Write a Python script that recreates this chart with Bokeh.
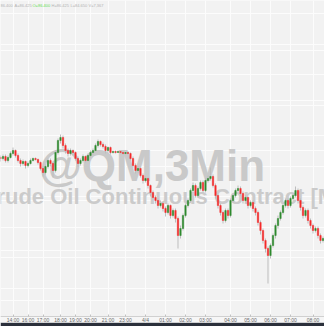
from bokeh.plotting import figure
from bokeh.models import Range1d, FixedTicker, Grid, Label, ColumnDataSource, BoxAnnotation
from bokeh.embed import file_html
from bokeh.resources import INLINE

# ---- data (3-min bars) ----
bar_index = list(range(130))
open_ = [86.43, 86.42, 86.44, 86.40, 86.43, 86.47, 86.50, 86.45, 86.40, 86.37,
         86.39, 86.35, 86.37, 86.40, 86.42, 86.41, 86.38, 86.32, 86.28, 86.34,
         86.40, 86.37, 86.30, 86.48, 86.60, 86.63, 86.55, 86.50, 86.47, 86.50,
         86.48, 86.42, 86.37, 86.40, 86.44, 86.40, 86.45, 86.48, 86.50, 86.55,
         86.59, 86.56, 86.54, 86.50, 86.53, 86.48, 86.49, 86.48, 86.49, 86.48,
         86.47, 86.48, 86.47, 86.42, 86.35, 86.30, 86.32, 86.25, 86.20, 86.22,
         86.15, 86.08, 86.03, 86.00, 85.95, 85.97, 85.92, 85.88, 85.95, 85.85,
         85.90, 85.82, 85.65, 85.72, 85.85, 85.95, 86.00, 86.10, 86.15, 86.05,
         86.12, 86.18, 86.10, 86.20, 86.22, 86.24, 86.15, 86.05, 85.95, 85.88,
         85.80, 85.90, 85.85, 86.00, 86.05, 86.10, 86.12, 86.07, 86.00, 86.03,
         85.95, 85.98, 85.92, 85.88, 85.78, 85.70, 85.60, 85.52, 85.45, 85.55,
         85.65, 85.75, 85.82, 85.88, 85.95, 86.00, 85.95, 86.02, 86.05, 86.10,
         86.00, 85.93, 85.85, 85.90, 85.80, 85.75, 85.70, 85.72, 85.65, 85.60]
high = [86.45, 86.46, 86.46, 86.45, 86.49, 86.53, 86.51, 86.47, 86.42, 86.41,
        86.40, 86.39, 86.42, 86.43, 86.43, 86.42, 86.39, 86.34, 86.36, 86.42,
        86.42, 86.39, 86.50, 86.62, 86.66, 86.65, 86.57, 86.52, 86.52, 86.51,
        86.49, 86.44, 86.42, 86.46, 86.45, 86.47, 86.50, 86.52, 86.57, 86.61,
        86.60, 86.58, 86.56, 86.54, 86.54, 86.50, 86.50, 86.50, 86.49, 86.49,
        86.48, 86.49, 86.48, 86.44, 86.37, 86.34, 86.33, 86.27, 86.24, 86.23,
        86.16, 86.10, 86.05, 86.02, 86.00, 85.99, 85.94, 85.97, 85.96, 85.92,
        85.92, 85.84, 85.75, 85.87, 85.97, 86.02, 86.12, 86.18, 86.17, 86.14,
        86.20, 86.20, 86.22, 86.25, 86.33, 86.26, 86.17, 86.07, 85.97, 85.90,
        85.92, 85.92, 86.02, 86.07, 86.12, 86.15, 86.14, 86.09, 86.05, 86.04,
        86.00, 86.00, 85.94, 85.90, 85.80, 85.72, 85.62, 85.54, 85.57, 85.67,
        85.77, 85.85, 85.90, 85.97, 86.02, 86.02, 86.04, 86.07, 86.14, 86.12,
        86.02, 85.95, 85.92, 85.92, 85.82, 85.77, 85.74, 85.74, 85.67, 85.64]
low = [86.39, 86.40, 86.38, 86.38, 86.42, 86.45, 86.43, 86.38, 86.34, 86.35,
       86.32, 86.33, 86.36, 86.39, 86.40, 86.36, 86.30, 86.24, 86.26, 86.32,
       86.34, 86.23, 86.28, 86.46, 86.57, 86.52, 86.47, 86.44, 86.45, 86.45,
       86.40, 86.34, 86.35, 86.38, 86.38, 86.39, 86.43, 86.46, 86.49, 86.53,
       86.54, 86.52, 86.47, 86.48, 86.46, 86.47, 86.47, 86.48, 86.47, 86.46,
       86.46, 86.46, 86.40, 86.33, 86.27, 86.28, 86.23, 86.17, 86.18, 86.12,
       86.04, 86.01, 85.97, 85.92, 85.93, 85.89, 85.84, 85.86, 85.82, 85.83,
       85.78, 85.52, 85.62, 85.70, 85.83, 85.93, 85.98, 86.08, 86.03, 86.03,
       86.10, 86.08, 86.08, 86.18, 86.20, 86.13, 86.02, 85.92, 85.85, 85.77,
       85.78, 85.82, 85.83, 85.98, 86.03, 86.08, 86.05, 85.97, 85.98, 85.92,
       85.93, 85.89, 85.85, 85.75, 85.66, 85.57, 85.48, 85.17, 85.42, 85.53,
       85.62, 85.72, 85.80, 85.86, 85.93, 85.92, 85.93, 86.00, 86.03, 85.97,
       85.90, 85.82, 85.83, 85.77, 85.72, 85.67, 85.68, 85.62, 85.57, 85.58]
close = [86.42, 86.44, 86.40, 86.43, 86.47, 86.50, 86.45, 86.40, 86.37, 86.39,
         86.35, 86.37, 86.40, 86.42, 86.41, 86.38, 86.32, 86.28, 86.34, 86.40,
         86.37, 86.30, 86.48, 86.60, 86.63, 86.55, 86.50, 86.47, 86.50, 86.48,
         86.42, 86.37, 86.40, 86.44, 86.40, 86.45, 86.48, 86.50, 86.55, 86.59,
         86.56, 86.54, 86.50, 86.53, 86.48, 86.49, 86.48, 86.49, 86.48, 86.47,
         86.48, 86.47, 86.42, 86.35, 86.30, 86.32, 86.25, 86.20, 86.22, 86.15,
         86.08, 86.03, 86.00, 85.95, 85.97, 85.92, 85.88, 85.95, 85.85, 85.90,
         85.82, 85.65, 85.72, 85.85, 85.95, 86.00, 86.10, 86.15, 86.05, 86.12,
         86.18, 86.10, 86.20, 86.22, 86.24, 86.15, 86.05, 85.95, 85.88, 85.80,
         85.90, 85.85, 86.00, 86.05, 86.10, 86.12, 86.07, 86.00, 86.03, 85.95,
         85.98, 85.92, 85.88, 85.78, 85.70, 85.60, 85.52, 85.45, 85.55, 85.65,
         85.75, 85.82, 85.88, 85.95, 86.00, 85.95, 86.02, 86.05, 86.10, 86.00,
         85.93, 85.85, 85.90, 85.80, 85.75, 85.70, 85.72, 85.65, 85.60, 85.62]

tick_index = [5, 11, 17, 24, 30, 36, 43, 50, 58, 66, 74, 82, 92, 100, 108, 116, 125]
tick_labels = ["14:00", "16:00", "17:00", "18:00", "19:00", "20:00", "21:00", "23:00", "4/4",
               "01:00", "02:00", "03:00", "04:00", "05:00", "06:00", "07:00", "08:00"]
grid_prices = [87.87, 87.565, 87.26, 86.955, 86.65, 86.345, 86.04, 85.735, 85.43, 85.125]

header_items = ["86.400", "A=86.425", "O=86.400", "H=86.425", "L=84.650", "V=7,367"]
header_colors = ["#b4b4b4", "#b4b4b4", "#66dd55", "#b4b4b4", "#b4b4b4", "#b4b4b4"]
header_x = [0.0, 5.6, 12.8, 20.4, 28.0, 35.2]

symbol_text = "@QM,3Min"
contract_text = "Crude Oil Continuous Contract [Mini]"

UP = "#2f8a2f"
DOWN = "#f52a2a"
WICK = "#bdbdbd"
AXIS_LEVEL = 84.843   # price level where the time axis sits (bottom of the price pane)

colors = [UP if c >= o else DOWN for o, c in zip(open_, close)]
src = ColumnDataSource(dict(x=bar_index, o=open_, h=high, l=low, c=close,
                            top=[max(a, b) for a, b in zip(open_, close)],
                            bot=[min(a, b) for a, b in zip(open_, close)],
                            col=colors))

p = figure(width=324, height=326, min_border=0, min_border_bottom=4,
           x_range=Range1d(0, 129.6), y_range=Range1d(84.78, 88.0),
           y_axis_location=None, output_backend="svg", toolbar_location=None,
           background_fill_color="#f2f2f2", border_fill_color="#2b303b")
p.outline_line_color = None

# grids
p.add_layout(Grid(dimension=1, ticker=FixedTicker(ticks=grid_prices)))
p.grid.grid_line_color = "#fcfcfc"
p.grid.grid_line_width = 1
p.grid.grid_line_alpha = 1.0

# time-axis band
p.add_layout(BoxAnnotation(top=AXIS_LEVEL, fill_color="#f6f6f6", fill_alpha=1.0,
                           line_color=None, level="underlay"))

# x axis, placed at the bottom of the price pane
ax = p.xaxis[0]
ax.fixed_location = AXIS_LEVEL
ax.ticker = FixedTicker(ticks=tick_index)
ax.major_label_overrides = {t: s for t, s in zip(tick_index, tick_labels)}
ax.major_label_text_font_size = "5px"
ax.major_label_text_font = "Liberation Sans"
ax.major_label_text_color = "#6a6a6a"
ax.major_label_standoff = 1
ax.major_tick_in = 2
ax.major_tick_out = 0
ax.minor_tick_line_color = None
ax.major_tick_line_color = "#c0c0c0"
ax.axis_line_color = "#d0d0d0"

# watermark
p.add_layout(Label(x=60.6, y=86.35, text=symbol_text, text_align="center",
                   text_baseline="alphabetic", text_font="Liberation Sans",
                   text_font_style="bold", text_font_size="44px",
                   text_color="#c9c9c9", level="underlay"))
p.add_layout(Label(x=-8.0, y=86.04, text=contract_text, text_align="left",
                   text_baseline="alphabetic", text_font="Liberation Sans",
                   text_font_style="bold", text_font_size="22px",
                   text_color="#cbcbcb", level="underlay"))

# header
for t, c, x in zip(header_items, header_colors, header_x):
    p.add_layout(Label(x=x, y=87.955, text=t, text_align="left", text_baseline="middle",
                       text_font="Liberation Sans", text_font_size="4px", text_color=c))

# candles
p.segment(x0="x", y0="h", x1="x", y1="l", source=src, line_color=WICK, line_width=1)
p.vbar(x="x", top="top", bottom="bot", width=0.55, source=src,
       fill_color="col", line_color="col", line_width=0.5)

open("out.html", "w").write(file_html(p, INLINE))
